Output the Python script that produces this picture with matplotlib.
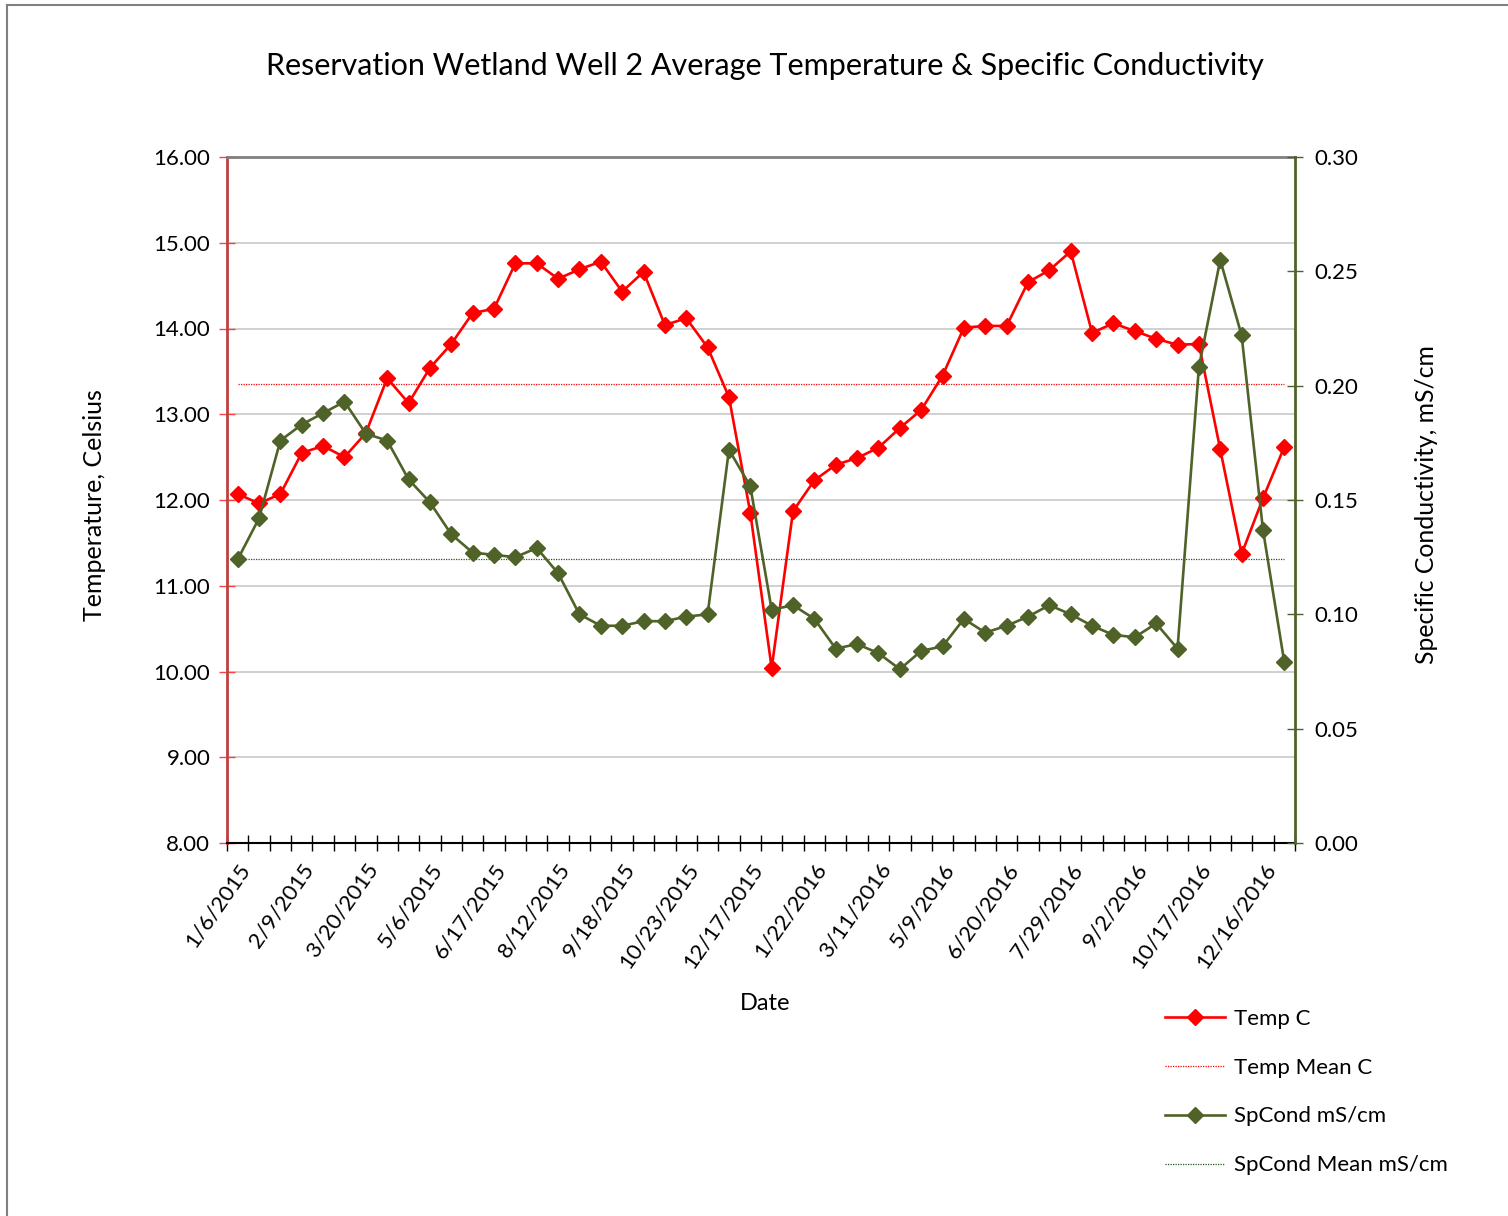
import matplotlib
matplotlib.use("Agg")
from matplotlib import pyplot as plt
from matplotlib.lines import Line2D

plt.rcParams['font.family'] = ['Lato', 'DejaVu Sans']

# sample dates (only every third one is labelled on the axis)
tick_labels = ['1/6/2015', '2/9/2015', '3/20/2015', '5/6/2015', '6/17/2015',
               '8/12/2015', '9/18/2015', '10/23/2015', '12/17/2015', '1/22/2016',
               '3/11/2016', '5/9/2016', '6/20/2016', '7/29/2016', '9/2/2016',
               '10/17/2016', '12/16/2016']

temp_c = [12.07, 11.96, 12.07, 12.55, 12.63, 12.50, 12.78, 13.42, 13.13, 13.54,
          13.82, 14.18, 14.23, 14.76, 14.76, 14.58, 14.69, 14.78, 14.43, 14.66,
          14.04, 14.12, 13.78, 13.20, 11.85, 10.04, 11.87, 12.23, 12.41, 12.49,
          12.61, 12.84, 13.05, 13.45, 14.01, 14.03, 14.03, 14.54, 14.68, 14.90,
          13.95, 14.06, 13.97, 13.88, 13.81, 13.82, 12.59, 11.37, 12.02, 12.62]
temp_mean = 13.35

spcond = [0.124, 0.142, 0.176, 0.183, 0.188, 0.193, 0.179, 0.176, 0.159, 0.149,
          0.135, 0.127, 0.126, 0.125, 0.129, 0.118, 0.100, 0.095, 0.095, 0.097,
          0.097, 0.099, 0.100, 0.172, 0.156, 0.102, 0.104, 0.098, 0.085, 0.087,
          0.083, 0.076, 0.084, 0.086, 0.098, 0.092, 0.095, 0.099, 0.104, 0.100,
          0.095, 0.091, 0.090, 0.096, 0.085, 0.208, 0.255, 0.222, 0.137, 0.079]
spcond_mean = 0.124

RED = '#FF0000'
OLIVE = '#4F6228'

n = len(temp_c)
x = list(range(n))

fig = plt.figure(figsize=(15.08, 12.16), dpi=100)
ax = fig.add_axes([227/1508, 1-843/1216, (1295-227)/1508, (843-157)/1216])
ax2 = ax.twinx()

# figure border (left and top edges visible)
fig.add_artist(Line2D([7/1508, 7/1508], [0, 1-5/1216], color='#808080', lw=1.5))
fig.add_artist(Line2D([7/1508, 1], [1-5/1216, 1-5/1216], color='#808080', lw=1.5))

l1, = ax.plot(x, temp_c, color=RED, lw=1.9, marker='D', ms=8, zorder=4)
l2, = ax.plot(x, [temp_mean]*n, color=RED, lw=0.9, ls=(0, (1, 1)), zorder=3)
l3, = ax2.plot(x, spcond, color=OLIVE, lw=1.9, marker='D', ms=8, zorder=4)
l4, = ax2.plot(x, [spcond_mean]*n, color='#1E5A1E', lw=0.9, ls=(0, (1, 1)), zorder=3)

ax.set_xlim(-0.5, n - 0.5)
ax.set_ylim(8, 16)
ax.set_yticks([8 + i for i in range(9)])
ax.set_yticklabels([f'{8 + i:.2f}' for i in range(9)])
ax2.set_ylim(0, 0.30)
ax2.set_yticks([i * 0.05 for i in range(7)])
ax2.set_yticklabels([f'{i * 0.05:.2f}' for i in range(7)])

ax.grid(axis='y', color='#C8C8C8', lw=1.2)
ax.set_axisbelow(True)

# category ticks at boundaries, labels on every third category
ax.set_xticks([i - 0.5 for i in range(n + 1)])
ax.set_xticklabels([])
ax.set_xticks(list(range(0, n, 3)), minor=True)
ax.set_xticklabels(tick_labels, minor=True, rotation=55, ha='right',
                   rotation_mode='anchor', fontsize=16)
ax.tick_params(axis='x', which='major', direction='inout', length=12, width=1, color='black')
ax.tick_params(axis='x', which='minor', length=0, pad=12)

ax.tick_params(axis='y', direction='inout', length=12, width=1, color='#FF4040',
               labelsize=16, pad=6)
ax2.tick_params(axis='y', direction='inout', length=12, width=1, color=OLIVE,
                labelsize=16, pad=8)

for s in ['left', 'right', 'top', 'bottom']:
    ax2.spines[s].set_visible(False)
ax2.spines['right'].set_visible(True)
ax2.spines['right'].set_color(OLIVE)
ax2.spines['right'].set_linewidth(2)
ax.spines['left'].set_color('#C04040')
ax.spines['left'].set_linewidth(2)
ax.spines['top'].set_color('#808080')
ax.spines['top'].set_linewidth(2)
ax.spines['bottom'].set_color('black')
ax.spines['bottom'].set_linewidth(1.5)
ax.spines['right'].set_visible(False)

fig.text(765/1508, 1-66/1216,
         'Reservation Wetland Well 2 Average Temperature & Specific Conductivity',
         ha='center', va='center', fontsize=22)
fig.text(95/1508, 1-505/1216, 'Temperature, Celsius', rotation=90,
         ha='center', va='center', fontsize=18)
fig.text(1427/1508, 1-505/1216, 'Specific Conductivity, mS/cm', rotation=90,
         ha='center', va='center', fontsize=17.8)
fig.text(765/1508, 1-1003/1216, 'Date', ha='center', va='center', fontsize=17)

fig.legend([l1, l2, l3, l4],
           ['Temp C', 'Temp Mean C', 'SpCond mS/cm', 'SpCond Mean mS/cm'],
           loc='center left', bbox_to_anchor=(1165/1508, 1-1092/1216),
           frameon=False, fontsize=16, handlelength=2.7, handletextpad=0.4,
           labelspacing=1.3, borderaxespad=0, borderpad=0)

fig.savefig('out.png', dpi=100, facecolor='white')
